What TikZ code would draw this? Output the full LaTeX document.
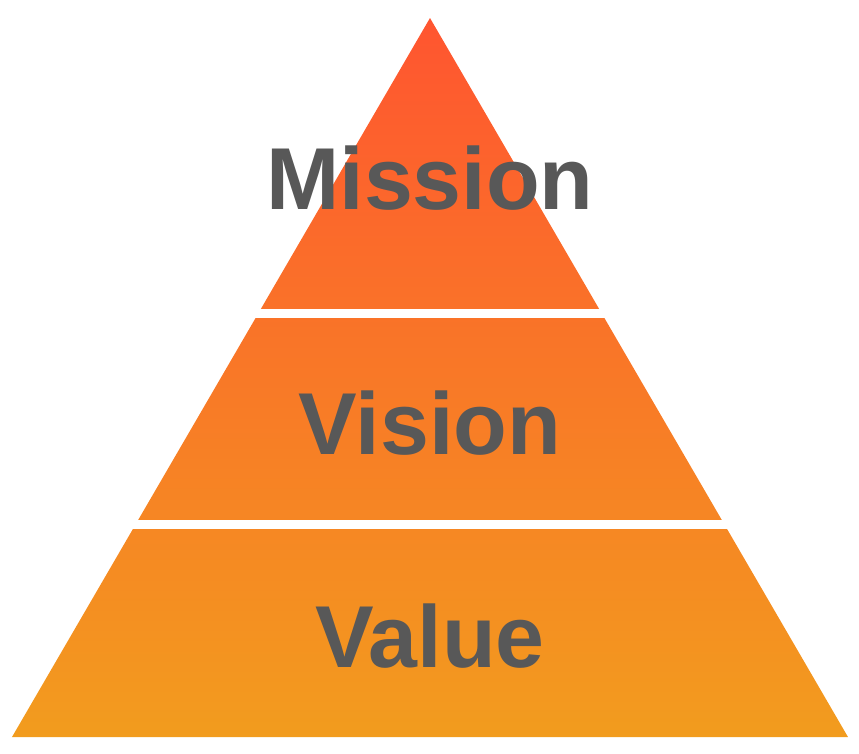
\documentclass[tikz,border=0pt]{standalone}
\usepackage{fontspec}
\setmainfont{Liberation Sans}
\definecolor{topred}{RGB}{255,85,48}
\definecolor{baseorange}{RGB}{242,156,30}
\definecolor{labelgray}{RGB}{88,88,88}
\begin{document}
\begin{tikzpicture}[x=0.01cm,y=-0.01cm,
                    level label/.style={font=\fontsize{25}{30}\selectfont\bfseries,text=labelgray}]
  \useasboundingbox (0,0) rectangle (859,753);
  % pyramid body
  \shade[top color=topred,bottom color=baseorange] (430,18) -- (848,737) -- (12,737) -- cycle;
  % gaps between the levels
  \fill[white] (0,309) rectangle (859,318);
  \fill[white] (0,520) rectangle (859,529);
  % labels
  \node[level label] (mission) at (430,178) {Mission};
  \node[level label] (vision) at (430,423) {Vision};
  \node[level label] (value) at (430,636) {Value};
\end{tikzpicture}
\end{document}
